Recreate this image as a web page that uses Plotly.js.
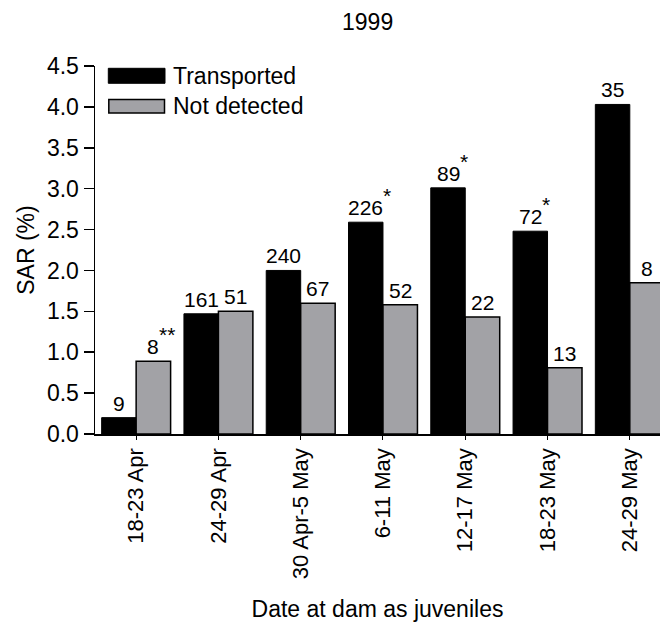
<!DOCTYPE html>
<html>
<head>
<meta charset="utf-8">
<script src="https://cdn.plot.ly/plotly-3.0.1.min.js"></script>
<style>html,body{margin:0;padding:0;background:#fff;}#chart{width:660px;height:622px;}</style>
</head>
<body>
<div id="chart"></div>
<script>
// ---- data ----
const categories = ["18-23 Apr", "24-29 Apr", "30 Apr-5 May", "6-11 May", "12-17 May", "18-23 May", "24-29 May"];
const seriesNames = ["Transported", "Not detected"];
const transported = [0.20, 1.47, 2.00, 2.59, 3.01, 2.48, 4.03];
const notDetected = [0.89, 1.50, 1.60, 1.58, 1.43, 0.81, 1.85];
const transportedN = ["9", "161", "240", "226", "89", "72", "35"];
const notDetectedN = ["8", "51", "67", "52", "22", "13", "8"];
const transportedSig = ["", "", "", "*", "*", "*", ""];
const notDetectedSig = ["**", "", "", "", "", "", ""];
const yTicks = [0, 0.5, 1.0, 1.5, 2.0, 2.5, 3.0, 3.5, 4.0, 4.5];

// ---- style ----
const FONT = "Liberation Sans, Arial, sans-serif";
const BLACK = "#000000";
const GREY = "#a2a2a6";
const pxPerCat = 82.3;
const barPx = pxPerCat * (1 - 0.162) / 2;
const NUMSIZE = 21;
const digitW = NUMSIZE * 0.556;

const traces = [
  {type: "bar", name: seriesNames[0], x: categories, y: transported,
   marker: {color: BLACK, line: {color: BLACK, width: 1}}, hoverinfo: "none"},
  {type: "bar", name: seriesNames[1], x: categories, y: notDetected,
   marker: {color: GREY, line: {color: BLACK, width: 1.5}}, hoverinfo: "none"}
];

const annotations = [];
function addLabels(vals, ns, sigs, side) {
  vals.forEach((v, i) => {
    const xs = side * barPx / 2;
    annotations.push({x: categories[i], y: v, xref: "x", yref: "y", text: ns[i],
      showarrow: false, xanchor: "center", yanchor: "bottom", xshift: xs, yshift: 1,
      font: {family: FONT, size: NUMSIZE, color: "#000"}});
    if (sigs[i]) {
      annotations.push({x: categories[i], y: v, xref: "x", yref: "y", text: sigs[i],
        showarrow: false, xanchor: "left", yanchor: "bottom",
        xshift: xs + ns[i].length * digitW / 2 - 2, yshift: 13,
        font: {family: FONT, size: 21, color: "#000"}});
    }
  });
}
addLabels(transported, transportedN, transportedSig, -1);
addLabels(notDetected, notDetectedN, notDetectedSig, 1);

// custom legend
const shapes = [
  {type: "rect", xref: "paper", yref: "paper", x0: 13.3/565, x1: 70/565,
   y0: 1 - (83.3-66)/368.3, y1: 1 - (68.3-66)/368.3,
   fillcolor: BLACK, line: {color: BLACK, width: 1}},
  {type: "rect", xref: "paper", yref: "paper", x0: 13.8/565, x1: 69.5/565,
   y0: 1 - (113-66)/368.3, y1: 1 - (99.5-66)/368.3,
   fillcolor: GREY, line: {color: BLACK, width: 1.5}}
];
annotations.push({xref: "paper", yref: "paper", x: 76/565, y: 1 - (76-66)/368.3,
  text: seriesNames[0], showarrow: false, xanchor: "left", yanchor: "middle",
  font: {family: FONT, size: 23, color: "#000"}});
annotations.push({xref: "paper", yref: "paper", x: 76/565, y: 1 - (106.5-66)/368.3,
  text: seriesNames[1], showarrow: false, xanchor: "left", yanchor: "middle",
  font: {family: FONT, size: 23, color: "#000"}});

const layout = {
  width: 660, height: 622,
  margin: {l: 95, r: 0, t: 66, b: 188},
  paper_bgcolor: "#fff", plot_bgcolor: "#fff",
  showlegend: false,
  barmode: "group", bargap: 0.162, bargroupgap: 0,
  font: {family: FONT, size: 22, color: "#000"},
  title: {text: "1999", font: {family: FONT, size: 23, color: "#000"},
    x: 0.557, xanchor: "center", y: 0.965, yanchor: "middle"},
  xaxis: {
    type: "category", range: [-0.5, 6.367],
    showline: true, linecolor: "#000", linewidth: 1.5,
    ticks: "outside", ticklen: 4, tickwidth: 1, tickcolor: "#000",
    tickangle: -90, tickfont: {family: FONT, size: 22, color: "#000"},
    showgrid: false, zeroline: false, fixedrange: true,
    title: {text: "Date at dam as juveniles", font: {family: FONT, size: 23, color: "#000"}, standoff: 28}
  },
  yaxis: {
    range: [0, 4.5], tickvals: yTicks, ticktext: yTicks.map(v => v.toFixed(1)),
    showline: true, linecolor: "#000", linewidth: 1.5,
    ticks: "outside", ticklen: 10, tickwidth: 1.5, tickcolor: "#000",
    tickfont: {family: FONT, size: 23, color: "#000"},
    showgrid: false, zeroline: false, fixedrange: true,
    title: {text: "SAR (%)", font: {family: FONT, size: 23, color: "#000"}, standoff: 6}
  },
  annotations: annotations,
  shapes: shapes
};

Plotly.newPlot("chart", traces, layout, {displayModeBar: false, staticPlot: true});
</script>
</body>
</html>
